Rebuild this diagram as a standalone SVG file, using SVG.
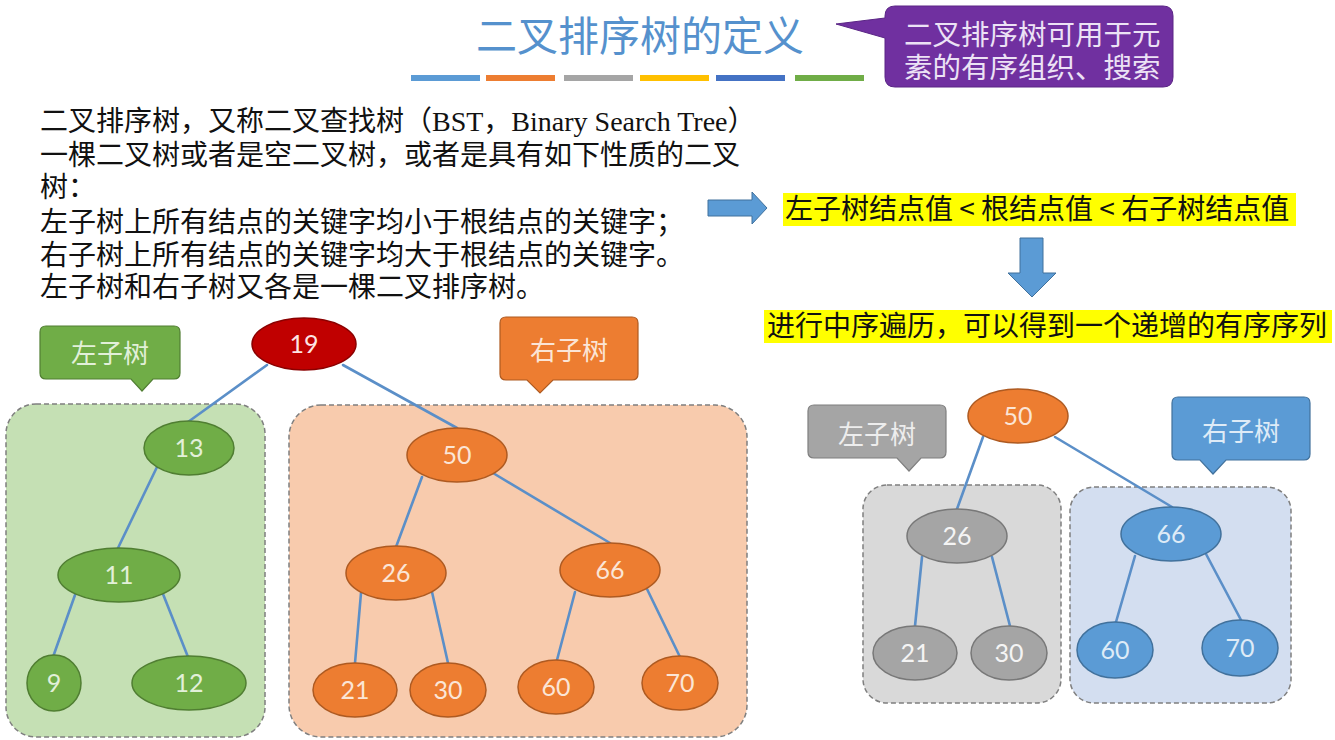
<svg xmlns="http://www.w3.org/2000/svg" width="1335" height="740" viewBox="0 0 1335 740">
<defs>
<style>
.cjk{font-family:"Noto Sans CJK SC","Noto Sans",sans-serif;}
.cjk2{font-family:"Liberation Sans","Noto Sans CJK SC",sans-serif;}
.para{font-family:"Liberation Serif","Noto Sans CJK SC",serif;font-size:28px;fill:#111;}
.hl{font-family:"Noto Sans CJK SC","Liberation Sans",sans-serif;font-size:28px;fill:#111;}
.edge{stroke:#5b8fc8;stroke-width:2.6;fill:none;stroke-linecap:round;}
.box{stroke:#7f7f7f;stroke-width:1.5;stroke-dasharray:5 3;}
.num{font-family:"Lato","Open Sans",sans-serif;font-size:25px;text-anchor:middle;}
.lbl{font-family:"Noto Sans CJK SC",sans-serif;font-size:26px;text-anchor:middle;}
.gn{fill:#70ad47;stroke:#507e32;stroke-width:1.5;}
.on{fill:#ed7d31;stroke:#ae5a21;stroke-width:1.5;}
.rn{fill:#c00000;stroke:#8b0000;stroke-width:1.5;}
.yn{fill:#a5a5a5;stroke:#787878;stroke-width:1.5;}
.bn{fill:#5b9bd5;stroke:#41719c;stroke-width:1.5;}
.arrow{fill:#5b9bd5;stroke:#41719c;stroke-width:1;}
</style>
</defs>
<rect width="1335" height="740" fill="#ffffff"/>

<!-- Title -->
<g id="title">
<text x="640" y="51" class="cjk" font-size="41" fill="#5591cd" text-anchor="middle">二叉排序树的定义</text>
<rect x="411" y="75" width="69" height="6" fill="#5b9bd5"/>
<rect x="486" y="75" width="69" height="6" fill="#ed7d31"/>
<rect x="564" y="75" width="69" height="6" fill="#a5a5a5"/>
<rect x="640" y="75" width="69" height="6" fill="#ffc000"/>
<rect x="716" y="75" width="69" height="6" fill="#4472c4"/>
<rect x="795" y="75" width="69" height="6" fill="#70ad47"/>
</g>

<!-- Purple callout -->
<g id="callout-purple">
<path d="M895,6 H1163 Q1173,6 1173,16 V77 Q1173,87 1163,87 H895 Q885,87 885,77 V38 L836,24 L885,18 V16 Q885,6 895,6 Z" fill="#7030a0" stroke="#5a2585" stroke-width="1"/>
<text x="904" y="45" class="cjk2" font-size="28.5" fill="#ece2f5">二叉排序树可用于元</text>
<text x="904" y="78" class="cjk2" font-size="28.5" fill="#ece2f5">素的有序组织、搜索</text>
</g>

<!-- Paragraph -->
<g id="definition">
<text x="40" y="131" class="para">二叉排序树，又称二叉查找树（BST，Binary Search Tree）</text>
<text x="40" y="165" class="para">一棵二叉树或者是空二叉树，或者是具有如下性质的二叉</text>
<text x="40" y="197" class="para">树：</text>
<text x="40" y="232" class="para">左子树上所有结点的关键字均小于根结点的关键字；</text>
<text x="40" y="265" class="para">右子树上所有结点的关键字均大于根结点的关键字。</text>
<text x="40" y="297" class="para">左子树和右子树又各是一棵二叉排序树。</text>
</g>

<!-- Arrows and highlights -->
<g id="arrow-right">
<path class="arrow" d="M708,200 H752 V192 L767,208 L752,224 V216 H708 Z"/>
</g>
<g id="highlight-1">
<rect x="783" y="193" width="513" height="33" fill="#ffff00"/>
<text x="785" y="219" class="hl">左子树结点值 &lt; 根结点值 &lt; 右子树结点值</text>
</g>
<g id="arrow-down">
<path class="arrow" d="M1020,238 H1043 V273 H1056 L1032,297 L1008,273 H1020 Z"/>
</g>
<g id="highlight-2">
<rect x="764" y="310" width="568" height="33" fill="#ffff00"/>
<text x="767" y="336" class="hl">进行中序遍历，可以得到一个递增的有序序列</text>
</g>

<!-- Subtree boxes -->
<g id="box-left-green"><rect class="box" x="6" y="404" width="259" height="333" rx="30" fill="#c5e0b4"/></g>
<g id="box-right-orange"><rect class="box" x="289" y="405" width="458" height="332" rx="32" fill="#f8cbad"/></g>
<g id="box-right-gray"><rect class="box" x="863" y="485" width="198" height="218" rx="24" fill="#d9d9d9"/></g>
<g id="box-right-blue"><rect class="box" x="1070" y="487" width="221" height="216" rx="24" fill="#d3def0"/></g>

<!-- Callouts -->
<g id="callout-left-green">
<path d="M46,326 H174 Q180,326 180,332 V373 Q180,379 174,379 H153 L142,391 L131,379 H46 Q40,379 40,373 V332 Q40,326 46,326 Z" fill="#70ad47" stroke="#507e32" stroke-width="1.2"/>
<text x="110" y="363" class="lbl" fill="#e2f0d9">左子树</text>
</g>
<g id="callout-right-orange">
<path d="M506,317 H632 Q638,317 638,323 V374 Q638,380 632,380 H553 L540,393 L527,380 H506 Q500,380 500,374 V323 Q500,317 506,317 Z" fill="#ed7d31" stroke="#ae5a21" stroke-width="1.2"/>
<text x="569" y="360" class="lbl" fill="#fbe5d6">右子树</text>
</g>
<g id="callout-gray">
<path d="M814,405 H940 Q946,405 946,411 V452 Q946,458 940,458 H921 L909,471 L897,458 H814 Q808,458 808,452 V411 Q808,405 814,405 Z" fill="#a5a5a5" stroke="#7f7f7f" stroke-width="1.2"/>
<text x="877" y="444" class="lbl" fill="#ededed">左子树</text>
</g>
<g id="callout-blue">
<path d="M1178,397 H1304 Q1310,397 1310,403 V454 Q1310,460 1304,460 H1226 L1213,474 L1200,460 H1178 Q1172,460 1172,454 V403 Q1172,397 1178,397 Z" fill="#5b9bd5" stroke="#41719c" stroke-width="1.2"/>
<text x="1241" y="441" class="lbl" fill="#deebf7">右子树</text>
</g>

<!-- Connectors -->
<g id="connectors">
<line class="edge" x1="267" y1="365" x2="188" y2="422"/>
<line class="edge" x1="157" y1="467" x2="118" y2="548"/>
<line class="edge" x1="75" y1="595" x2="53" y2="657"/>
<line class="edge" x1="163" y1="594" x2="188" y2="657"/>
<line class="edge" x1="343" y1="365" x2="457" y2="428"/>
<line class="edge" x1="422" y1="477" x2="396" y2="547"/>
<line class="edge" x1="493" y1="473" x2="610" y2="543"/>
<line class="edge" x1="361" y1="593" x2="355" y2="663"/>
<line class="edge" x1="432" y1="592" x2="448" y2="663"/>
<line class="edge" x1="575" y1="592" x2="557" y2="660"/>
<line class="edge" x1="647" y1="589" x2="680" y2="657"/>
<line class="edge" x1="983" y1="437" x2="957" y2="509"/>
<line class="edge" x1="1055" y1="437" x2="1172" y2="507"/>
<line class="edge" x1="922" y1="557" x2="915" y2="626"/>
<line class="edge" x1="992" y1="557" x2="1010" y2="626"/>
<line class="edge" x1="1135" y1="556" x2="1116" y2="622"/>
<line class="edge" x1="1206" y1="554" x2="1241" y2="620"/>
</g>

<!-- Left tree nodes -->
<g id="n19"><ellipse class="rn" cx="304" cy="344" rx="52" ry="26"/><text x="304" y="353" class="num" fill="#fde4e4">19</text></g>
<g id="n13"><ellipse class="gn" cx="189" cy="448" rx="45" ry="27"/><text x="189" y="457" class="num" fill="#e2f0d9">13</text></g>
<g id="n11"><ellipse class="gn" cx="119" cy="575" rx="61" ry="27"/><text x="119" y="584" class="num" fill="#e2f0d9">11</text></g>
<g id="n9"><ellipse class="gn" cx="54" cy="683" rx="27" ry="28"/><text x="54" y="692" class="num" fill="#e2f0d9">9</text></g>
<g id="n12"><ellipse class="gn" cx="189" cy="683" rx="57" ry="27"/><text x="189" y="692" class="num" fill="#e2f0d9">12</text></g>

<!-- Right subtree nodes (orange) -->
<g id="n50"><ellipse class="on" cx="457" cy="455" rx="50" ry="27"/><text x="457" y="464" class="num" fill="#fbe5d6">50</text></g>
<g id="n26"><ellipse class="on" cx="396" cy="573" rx="50" ry="27"/><text x="396" y="582" class="num" fill="#fbe5d6">26</text></g>
<g id="n66"><ellipse class="on" cx="610" cy="570" rx="50" ry="27"/><text x="610" y="579" class="num" fill="#fbe5d6">66</text></g>
<g id="n21"><ellipse class="on" cx="355" cy="690" rx="42" ry="27"/><text x="355" y="699" class="num" fill="#fbe5d6">21</text></g>
<g id="n30"><ellipse class="on" cx="448" cy="690" rx="38" ry="27"/><text x="448" y="699" class="num" fill="#fbe5d6">30</text></g>
<g id="n60"><ellipse class="on" cx="556" cy="687" rx="38" ry="27"/><text x="556" y="696" class="num" fill="#fbe5d6">60</text></g>
<g id="n70"><ellipse class="on" cx="680" cy="683" rx="38" ry="27"/><text x="680" y="692" class="num" fill="#fbe5d6">70</text></g>

<!-- Right-side tree -->
<g id="m50"><ellipse class="on" cx="1018" cy="416" rx="50" ry="27"/><text x="1018" y="425" class="num" fill="#fbe5d6">50</text></g>
<g id="m26"><ellipse class="yn" cx="957" cy="536" rx="50" ry="27"/><text x="957" y="545" class="num" fill="#f4f4f4">26</text></g>
<g id="m21"><ellipse class="yn" cx="915" cy="653" rx="42" ry="27"/><text x="915" y="662" class="num" fill="#f4f4f4">21</text></g>
<g id="m30"><ellipse class="yn" cx="1009" cy="653" rx="38" ry="27"/><text x="1009" y="662" class="num" fill="#f4f4f4">30</text></g>
<g id="m66"><ellipse class="bn" cx="1171" cy="534" rx="50" ry="27"/><text x="1171" y="543" class="num" fill="#deebf7">66</text></g>
<g id="m60"><ellipse class="bn" cx="1115" cy="650" rx="38" ry="28"/><text x="1115" y="659" class="num" fill="#deebf7">60</text></g>
<g id="m70"><ellipse class="bn" cx="1240" cy="648" rx="38" ry="28"/><text x="1240" y="657" class="num" fill="#deebf7">70</text></g>
</svg>
